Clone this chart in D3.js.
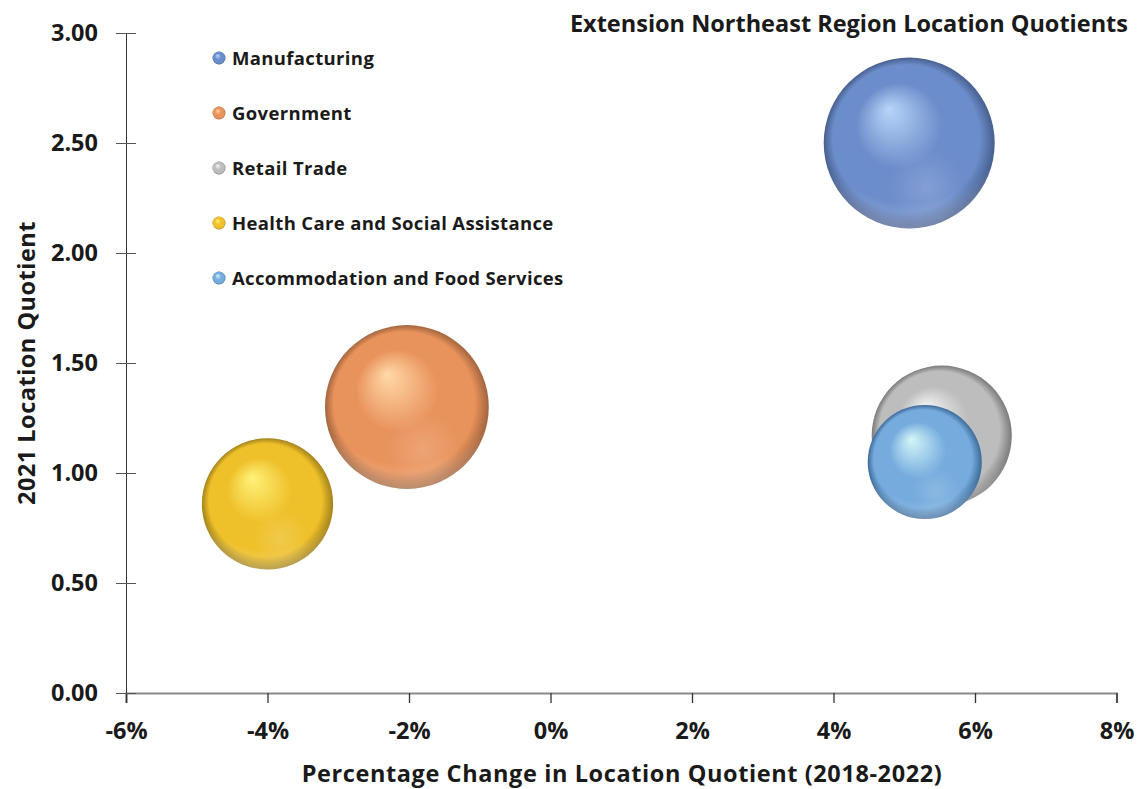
<!DOCTYPE html>
<html>
<head>
<meta charset="utf-8">
<script src="https://cdn.jsdelivr.net/npm/d3@7"></script>
<style>
  body { margin: 0; background: #fff; }
  text { font-family: "Open Sans", Lato, sans-serif; font-weight: bold; fill: #1a1a1a; }
</style>
</head>
<body>
<script>
// Chart data
const categories = ["Manufacturing", "Government", "Retail Trade", "Health Care and Social Assistance", "Accommodation and Food Services"];
const pctChange = [0.0507, -0.0203, 0.0553, -0.0400, 0.0529];
const locationQuotient = [2.50, 1.30, 1.17, 0.86, 1.05];
const bubbleSize = [7300, 6700, 4900, 4300, 3250];
const xTicks = [-0.06, -0.04, -0.02, 0, 0.02, 0.04, 0.06, 0.08];
const yTicks = [0, 0.5, 1.0, 1.5, 2.0, 2.5, 3.0];

// Shading colours per series: highlight, base, dark edge
const shades = [
  ["#b8d6f8", "#6c8dcb", "#485f8e"],
  ["#ffd9a8", "#e9935c", "#a2653e"],
  ["#f6f6f6", "#bdbdbd", "#7a7a7a"],
  ["#fff27a", "#eec02a", "#a3821a"],
  ["#d4f6f8", "#75abdd", "#3d6b9a"]
];

const width = 1143;
const height = 789;

const svg = d3.select("body")
  .append("svg")
  .attr("width", width)
  .attr("height", height);

const x = d3.scaleLinear().domain([-0.06, 0.08]).range([126, 1116.5]);
const y = d3.scaleLinear().domain([0, 3]).range([693, 33]);
const r = d3.scaleSqrt().domain([0, d3.max(bubbleSize)]).range([0, 85.5]);

// hyphen minus like the original, not the unicode one
const pct = d => d3.format(".0%")(d).replace("\u2212", "-");

// Gradients for the 3D bubble look
const defs = svg.append("defs");
shades.forEach((s, i) => {
  const g = defs.append("radialGradient")
    .attr("id", "ball" + i)
    .attr("cx", 0.5).attr("cy", 0.5).attr("r", 0.5)
    .attr("fx", 0.38).attr("fy", 0.3);
  g.append("stop").attr("offset", 0).attr("stop-color", s[0]);
  g.append("stop").attr("offset", 0.5).attr("stop-color", s[1]);
  g.append("stop").attr("offset", 0.86).attr("stop-color", s[1]);
  g.append("stop").attr("offset", 1).attr("stop-color", s[2]);
});
const rim = defs.append("radialGradient")
  .attr("id", "rim")
  .attr("cx", 0.5).attr("cy", 0.2).attr("r", 0.85);
rim.append("stop").attr("offset", 0.76).attr("stop-color", "#fff").attr("stop-opacity", 0);
rim.append("stop").attr("offset", 1).attr("stop-color", "#fff").attr("stop-opacity", 0.35);
const glint = defs.append("radialGradient")
  .attr("id", "glint")
  .attr("cx", 0.6).attr("cy", 0.76).attr("r", 0.22);
glint.append("stop").attr("offset", 0).attr("stop-color", "#fff").attr("stop-opacity", 0.16);
glint.append("stop").attr("offset", 1).attr("stop-color", "#fff").attr("stop-opacity", 0);

// Axes
const xAxis = svg.append("g")
  .attr("transform", `translate(0,${y(0)})`)
  .call(d3.axisBottom(x).tickValues(xTicks).tickFormat(pct).tickSize(10).tickPadding(19));
xAxis.select(".domain").attr("stroke", "#8a8a8a").attr("stroke-width", 2.2);
xAxis.selectAll(".tick line").attr("stroke", "#333").attr("stroke-width", 1.3);
xAxis.selectAll(".tick text").style("font-size", "23.5px").attr("fill", "#1a1a1a");

const yAxis = svg.append("g")
  .attr("transform", `translate(${x(-0.06)},0)`)
  .call(d3.axisLeft(y).tickValues(yTicks).tickFormat(d3.format(".2f")).tickSize(10).tickPadding(18));
yAxis.select(".domain").attr("stroke", "#333").attr("stroke-width", 1.3);
yAxis.selectAll(".tick line").attr("x1", 10).attr("stroke", "#555").attr("stroke-width", 1.3);
yAxis.selectAll(".tick text").style("font-size", "23.5px").attr("fill", "#1a1a1a");
yAxis.selectAll(".domain, .tick line").attr("shape-rendering", "crispEdges");

// Bubbles
const idx = d3.range(categories.length);
const bubbles = svg.append("g").selectAll("g")
  .data(idx)
  .join("g");
["ball", "rim", "glint"].forEach(layer => {
  bubbles.append("circle")
    .attr("cx", i => x(pctChange[i]))
    .attr("cy", i => y(locationQuotient[i]))
    .attr("r", i => r(bubbleSize[i]))
    .attr("fill", i => layer === "ball" ? `url(#ball${i})` : `url(#${layer})`);
});

// Legend
const legend = svg.append("g");
const item = legend.selectAll("g")
  .data(idx)
  .join("g")
  .attr("transform", i => `translate(219,${58 + i * 55})`);
item.append("circle").attr("r", 6.5).attr("fill", i => `url(#ball${i})`);
item.append("text")
  .attr("x", 13)
  .attr("y", 7)
  .style("font-size", "18.5px")
  .style("letter-spacing", "0.35px")
  .text(i => categories[i]);

// Titles
svg.append("text")
  .attr("x", 1128)
  .attr("y", 32)
  .attr("text-anchor", "end")
  .style("font-size", "23.5px")
  .text("Extension Northeast Region Location Quotients");

svg.append("text")
  .attr("x", 622)
  .attr("y", 782)
  .attr("text-anchor", "middle")
  .style("font-size", "23.5px")
  .style("letter-spacing", "0.6px")
  .text("Percentage Change in Location Quotient (2018-2022)");

svg.append("text")
  .attr("transform", "translate(35,363) rotate(-90)")
  .attr("text-anchor", "middle")
  .style("font-size", "23.5px")
  .style("letter-spacing", "0.5px")
  .text("2021 Location Quotient");
</script>
</body>
</html>
